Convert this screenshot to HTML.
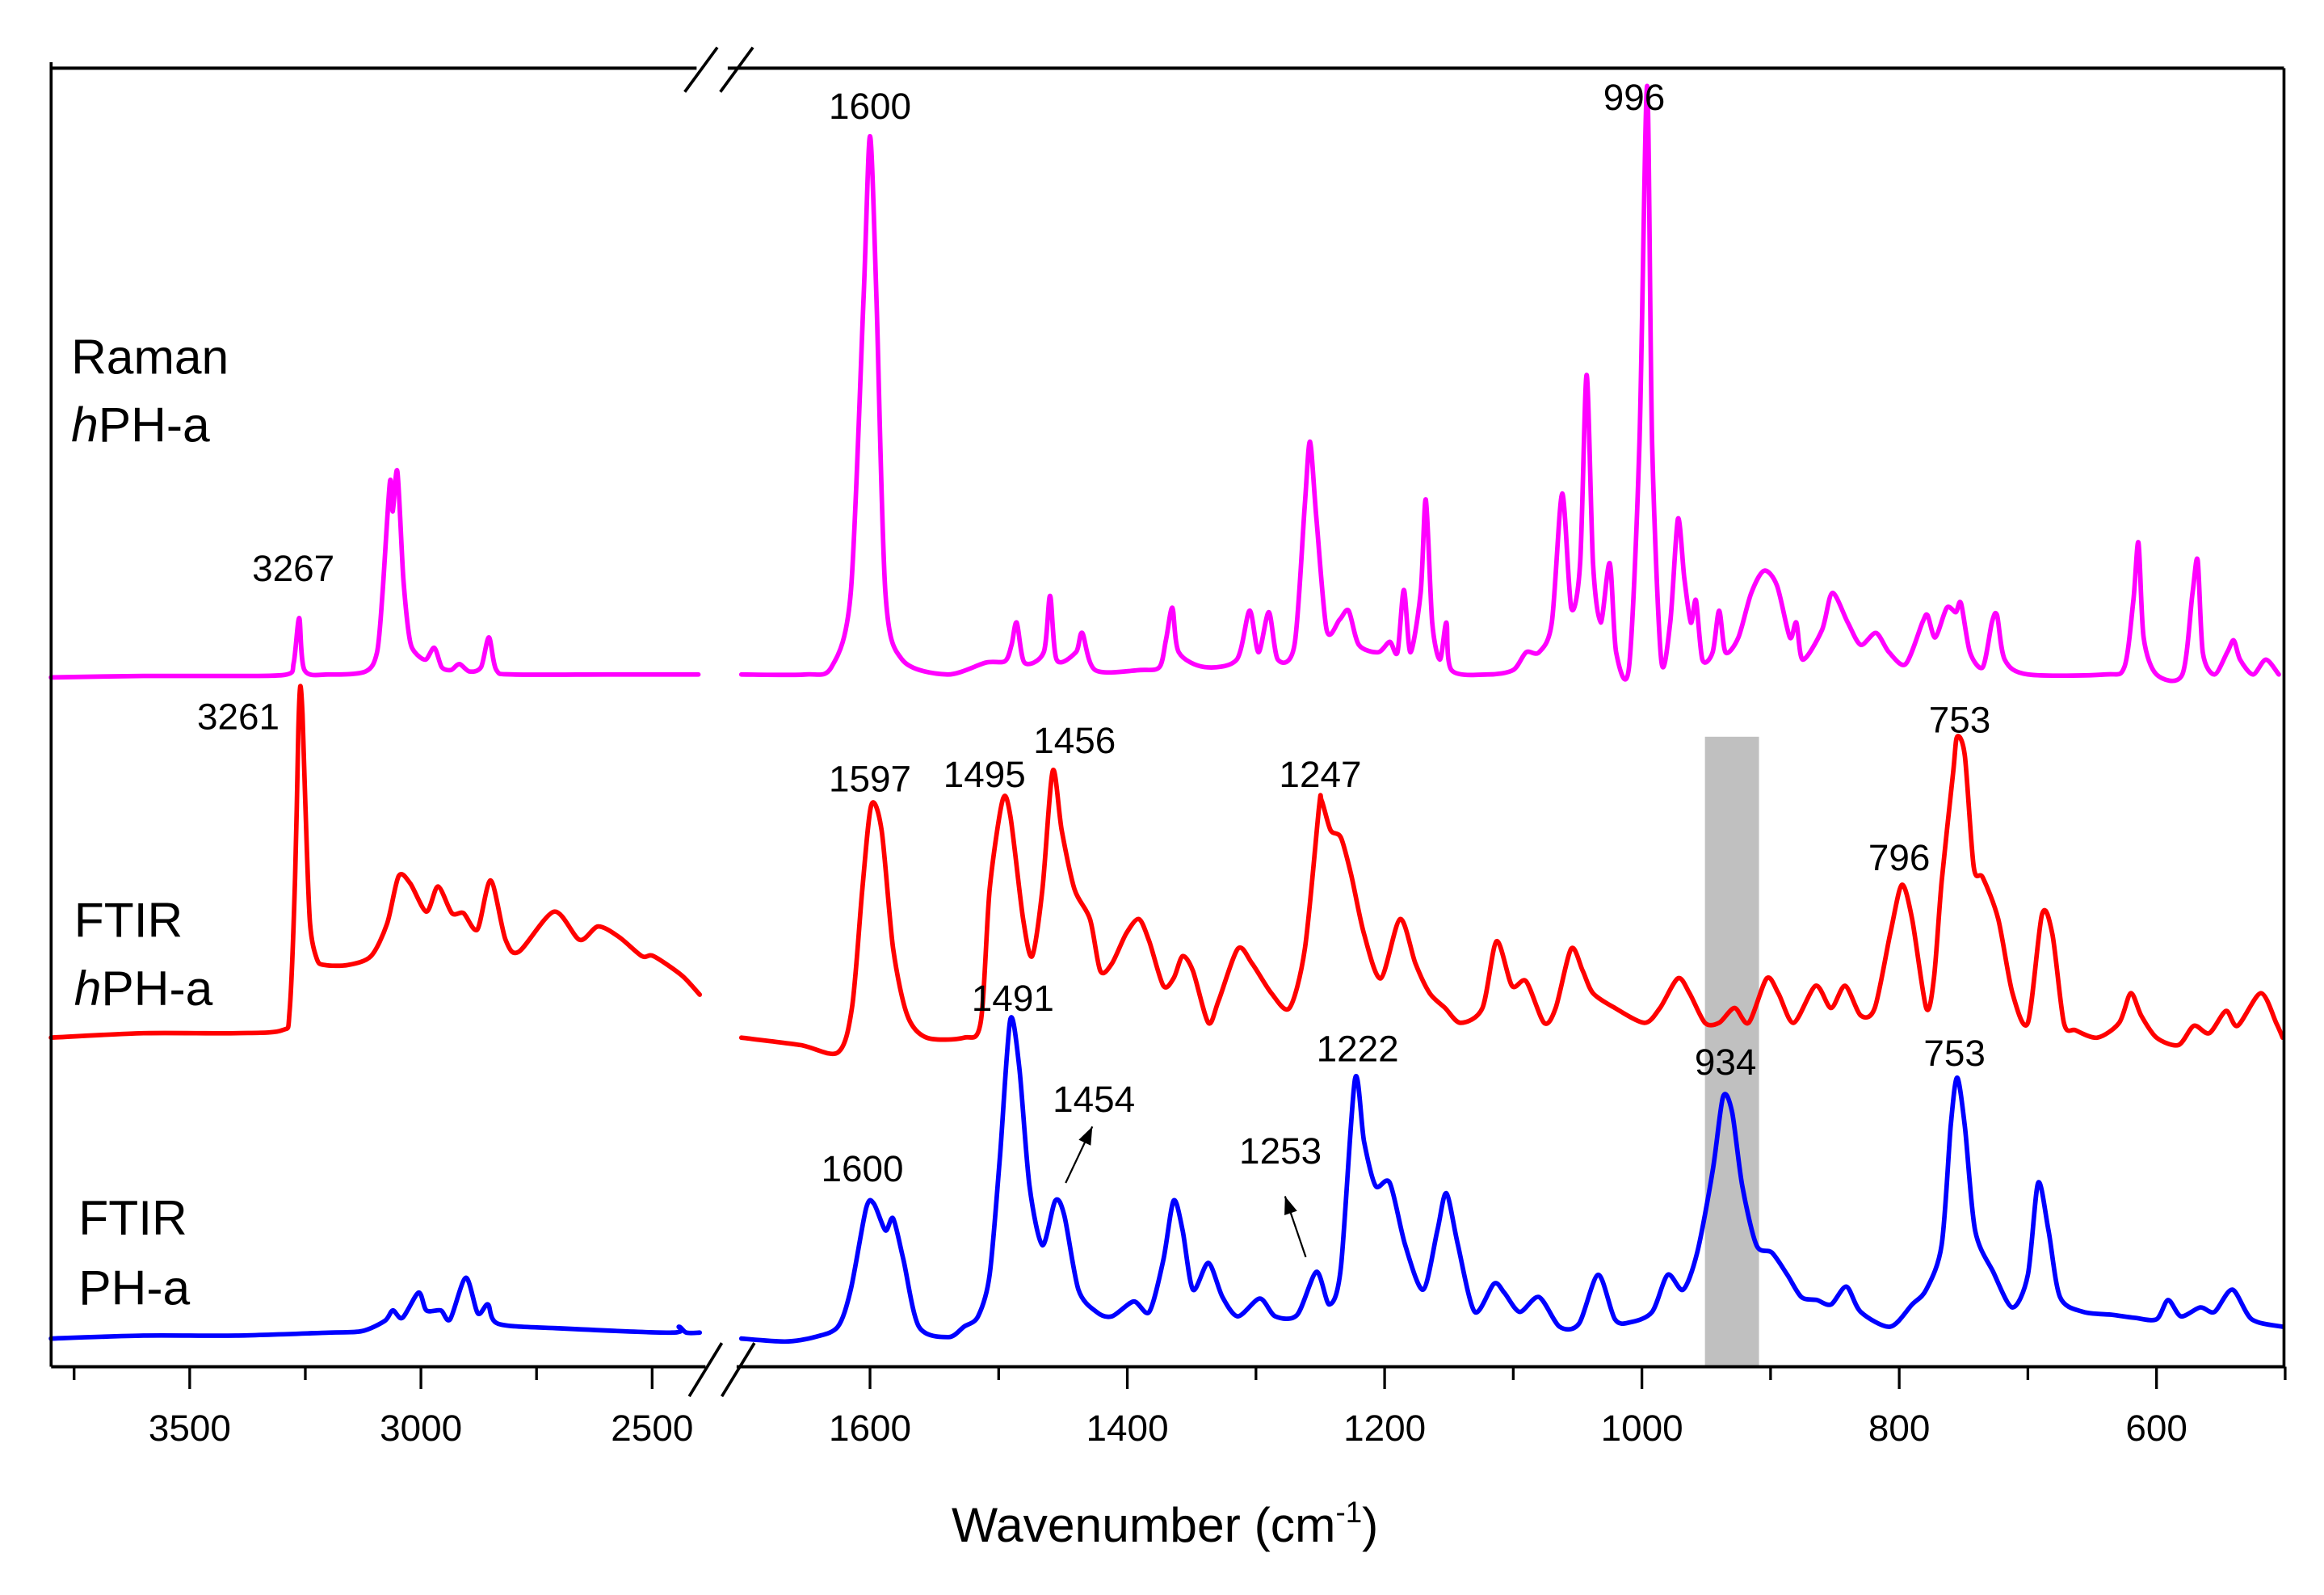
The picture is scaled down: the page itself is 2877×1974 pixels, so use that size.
<!DOCTYPE html>
<html><head><meta charset="utf-8"><style>
html,body{margin:0;padding:0;background:#fff;}
svg{display:block;}
text{font-family:"Liberation Sans",Arial,sans-serif;fill:#000;}
</style></head><body>
<svg id="chart" width="2877" height="1974" viewBox="0 0 1568 1076" preserveAspectRatio="none" xmlns="http://www.w3.org/2000/svg">
<rect x="0" y="0" width="1568" height="1076" fill="#fff"/>
<g id="band"></g>
<g id="curves"></g>
<g id="axes"></g>
<g id="labels"></g>
</svg>
<script>
// ---- data (wavenumber, intensity offset units) ----
const ramanLeft=[[3800,465],[3600,466],[3400,466],[3290,467],[3275,475],[3263,505],[3252,470],[3200,467],[3120,469],[3095,482],[3083,522],[3067,597],[3061,577],[3051,604],[3038,532],[3025,492],[3013,482],[2990,477],[2971,485],[2955,472],[2935,470],[2917,474],[2895,469],[2870,472],[2853,492],[2837,470],[2800,467],[2600,467],[2400,467]];
const ramanRight=[[1700,467],[1650,467],[1630,472],[1615,522],[1605,722],[1600,830],[1595,722],[1588,522],[1575,477],[1540,467],[1510,475],[1495,476],[1490,487],[1486,502],[1480,475],[1465,482],[1460,520],[1455,477],[1440,482],[1435,495],[1425,470],[1390,470],[1375,472],[1370,490],[1365,512],[1360,482],[1340,472],[1315,477],[1305,510],[1298,482],[1290,509],[1283,477],[1270,487],[1262,582],[1258,624],[1253,572],[1245,497],[1235,504],[1228,510],[1220,487],[1205,482],[1196,489],[1190,482],[1185,524],[1180,482],[1172,522],[1168,585],[1163,502],[1157,477],[1152,502],[1148,470],[1120,467],[1100,470],[1090,482],[1080,482],[1070,502],[1062,589],[1055,512],[1048,542],[1043,669],[1038,542],[1032,502],[1025,542],[1020,482],[1010,472],[1002,622],[996,864],[992,622],[985,477],[978,502],[972,572],[967,532],[962,502],[958,517],[953,477],[945,482],[940,510],[935,482],[925,492],[915,522],[905,537],[895,527],[885,492],[880,502],[875,477],[860,497],[852,522],[840,502],[830,487],[818,495],[808,482],[795,474],[782,502],[778,507],[772,492],[763,512],[756,509],[752,515],[745,482],[735,472],[728,502],[724,507],[718,477],[700,467],[640,467],[625,472],[618,517],[614,556],[610,492],[600,467],[580,467],[572,522],[568,544],[564,482],[555,467],[545,482],[540,490],[535,477],[525,467],[515,477],[505,467]];
const hphLeft=[[3800,222],[3600,225],[3400,225],[3300,227],[3284,240],[3272,330],[3265,430],[3261,459],[3256,440],[3250,380],[3240,300],[3225,275],[3208,271],[3158,271],[3108,277],[3073,299],[3048,331],[3023,326],[2988,307],[2963,324],[2933,306],[2908,306],[2878,295],[2849,328],[2817,288],[2788,280],[2712,307],[2657,288],[2617,297],[2572,290],[2522,277],[2497,277],[2436,264],[2397,251]];
const hphRight=[[1700,222],[1654,217],[1625,212],[1614,242],[1606,322],[1599,379],[1591,362],[1582,282],[1571,237],[1556,222],[1527,222],[1514,232],[1507,322],[1497,382],[1491,372],[1481,302],[1474,277],[1466,322],[1458,402],[1451,362],[1441,322],[1429,302],[1421,267],[1412,272],[1401,292],[1391,302],[1383,287],[1372,257],[1364,262],[1357,277],[1349,267],[1337,232],[1329,247],[1314,282],[1303,272],[1288,252],[1274,242],[1262,282],[1251,377],[1249,382],[1242,362],[1234,357],[1226,332],[1216,292],[1203,262],[1188,302],[1176,272],[1165,252],[1153,242],[1141,232],[1124,242],[1113,287],[1101,257],[1090,260],[1076,232],[1067,242],[1055,282],[1046,267],[1038,252],[1021,242],[998,232],[986,242],[972,262],[963,252],[951,232],[940,232],[928,242],[917,232],[903,262],[894,252],[882,232],[865,257],[853,242],[842,257],[830,237],[819,242],[807,292],[798,325],[790,302],[779,242],[773,262],[767,327],[758,402],[755,425],[749,412],[742,337],[735,330],[723,302],[712,252],[700,232],[689,305],[681,292],[672,232],[663,227],[646,222],[629,232],[620,252],[612,237],[600,222],[583,217],[571,230],[559,225],[546,240],[537,230],[519,252],[507,232],[502,222]];
const phLeft=[[3800,19],[3600,21],[3400,21],[3200,23],[3128,24],[3078,31],[3061,38],[3040,33],[3005,50],[2988,38],[2957,38],[2937,32],[2903,60],[2877,36],[2855,42],[2833,29],[2708,26],[2457,23],[2442,27],[2426,23],[2397,23]];
const phRight=[[1700,19],[1666,17],[1643,20],[1625,27],[1615,52],[1603,107],[1597,110],[1588,92],[1582,100],[1574,72],[1562,27],[1539,20],[1527,27],[1516,34],[1507,62],[1499,142],[1491,234],[1484,202],[1476,122],[1466,82],[1456,112],[1449,102],[1438,52],[1424,37],[1412,34],[1395,44],[1383,37],[1372,72],[1364,112],[1357,92],[1349,52],[1337,70],[1326,47],[1314,34],[1297,46],[1285,34],[1268,35],[1253,64],[1243,42],[1234,67],[1223,194],[1216,152],[1207,122],[1196,124],[1184,82],[1170,52],[1159,92],[1152,117],[1143,82],[1130,37],[1115,56],[1107,50],[1095,37],[1080,47],[1064,27],[1049,29],[1034,62],[1021,32],[1009,30],[992,37],[980,62],[968,52],[957,77],[945,132],[937,182],[930,172],[922,122],[911,82],[899,77],[887,62],[876,47],[864,45],[853,42],[841,54],[830,37],[807,27],[790,42],[779,52],[767,82],[760,162],[755,195],[749,162],[741,92],[727,64],[712,40],[700,62],[692,124],[684,92],[675,47],[657,37],[634,35],[617,33],[600,32],[591,45],[581,34],[566,40],[555,37],[541,52],[526,32],[502,27]];
const leftTicks=[3500,3000,2500];
const leftMinor=[3750,3250,2750];
const rightTicks=[1600,1400,1200,1000,800,600];
const rightMinor=[1500,1300,1100,900,700,500];
const bandRange=[951,909];
const peakLabels=[
 ["1600",1600,842,"raman"],["996",1006,848,"raman"],["3267",3276,530,"raman"],["3261",3395,430,"hph"],
 ["1597",1600,388,"hph"],["1495",1511,391,"hph"],["1456",1441,414,"hph"],["1247",1250,391,"hph"],["753",753,428,"hph"],["796",800,335,"hph"],
 ["1491",1489,240,"ph"],["1454",1426,172,"ph"],["1253",1281,137,"ph"],["1222",1221,206,"ph"],["934",935,197,"ph"],["753",757,203,"ph"],["1600",1606,125,"ph"]
];
// ---- scales ----
const NS="http://www.w3.org/2000/svg";
const X0=34.5, X1=1541, YB=922, YT=46, BRK0=476, BRK1=497;
function xLeft(w){return 128+(3500-w)*0.312;}
function xRight(w){return 587+(1600-w)*0.868;}
function xs(w){return w>2000?xLeft(w):xRight(w);}
function ys(v){return YB-v;}
function mk(tag,attrs,parent){const e=document.createElementNS(NS,tag);for(const k in attrs)e.setAttribute(k,attrs[k]);parent.appendChild(e);return e;}
function smoothPath(pts){
 let d='M'+pts[0][0].toFixed(1)+' '+pts[0][1].toFixed(1);
 const t=0.14;
 for(let i=0;i<pts.length-1;i++){
  const p0=pts[Math.max(0,i-1)],p1=pts[i],p2=pts[i+1],p3=pts[Math.min(pts.length-1,i+2)];
  const c1x=p1[0]+(p2[0]-p0[0])*t,c1y=p1[1]+(p2[1]-p0[1])*t;
  const c2x=p2[0]-(p3[0]-p1[0])*t,c2y=p2[1]-(p3[1]-p1[1])*t;
  d+=' C'+c1x.toFixed(1)+' '+c1y.toFixed(1)+' '+c2x.toFixed(1)+' '+c2y.toFixed(1)+' '+p2[0].toFixed(1)+' '+p2[1].toFixed(1);
 }
 return d;
}
const curves=document.getElementById('curves'),axes=document.getElementById('axes'),labels=document.getElementById('labels'),band=document.getElementById('band');
const b=mk('rect',{x:xRight(bandRange[0]),y:497,width:xRight(bandRange[1])-xRight(bandRange[0]),height:YB-497,fill:'#c0c0c0'},band);


const series=[[ramanLeft,'#ff00ff','raman-left'],[ramanRight,'#ff00ff','raman-right'],[hphLeft,'#ff0000','ftir-hph-left'],[hphRight,'#ff0000','ftir-hph-right'],[phLeft,'#0000ff','ftir-ph-left'],[phRight,'#0000ff','ftir-ph-right']];
series.forEach(s=>{
 const pts=s[0].map(p=>[xs(p[0]),ys(p[1])]);
 const p=mk('path',{d:smoothPath(pts),fill:'none',stroke:s[1],'stroke-width':3.1,'stroke-linejoin':'round','stroke-linecap':'round'},curves);
 
 
});
function line(x1,y1,x2,y2,w,name){const l=mk('line',{x1:x1,y1:y1,x2:x2,y2:y2,stroke:'#000','stroke-width':w},axes);
 
 return l;}
line(X0,YB,BRK0,YB,2.2,'x-axis-left');line(BRK1,YB,X1,YB,2.2,'x-axis-right');
line(X0,YT,BRK0-6,YT,2.2,'top-frame-left');line(BRK1-6,YT,X1,YT,2.2,'top-frame-right');
line(X0,YT-4,X0,YB,2,'left-frame');line(X1,YT,X1,YB+1,2,'right-frame');
line(462,62,484,32,2,'break-mark-top-1');line(486,62,508,32,2,'break-mark-top-2');
line(465,942,487,906,2,'break-mark-bottom-1');line(487,942,509,906,2,'break-mark-bottom-2');
leftTicks.forEach(t=>{line(xLeft(t),YB,xLeft(t),YB+15,1.8,'x-tick');
 const tx=mk('text',{x:xLeft(t),y:972,'font-size':25,'text-anchor':'middle'},axes);tx.textContent=t;
 
 });
leftMinor.forEach(t=>line(xLeft(t),YB,xLeft(t),YB+9,1.8,'x-minor-tick'));
rightTicks.forEach(t=>{line(xRight(t),YB,xRight(t),YB+15,1.8,'x-tick');
 const tx=mk('text',{x:xRight(t),y:972,'font-size':25,'text-anchor':'middle'},axes);tx.textContent=t;
 
 });
rightMinor.forEach(t=>line(xRight(t),YB,xRight(t),YB+9,1.8,'x-minor-tick'));
peakLabels.forEach(l=>{const t=mk('text',{x:xs(l[1]),y:ys(l[2]),'font-size':25,'text-anchor':'middle'},labels);t.textContent=l[0];
 
 });
function arrow(x1,y1,x2,y2,name){const g=mk('g',{},labels);
 
 
 mk('line',{x1:x1,y1:y1,x2:x2,y2:y2,stroke:'#000','stroke-width':1.2},g);
 const a=Math.atan2(y2-y1,x2-x1),L=12,W=4.5;
 const bx=x2-L*Math.cos(a),by=y2-L*Math.sin(a);
 mk('polygon',{points:`${x2},${y2} ${bx+W*Math.sin(a)},${by-W*Math.cos(a)} ${bx-W*Math.sin(a)},${by+W*Math.cos(a)}`,fill:'#000'},g);}
arrow(719,798,737,760,'arrow-1454');arrow(881,848,867,807,'arrow-1253');
</script>
<svg style="position:absolute;left:0;top:0" width="2877" height="1974" viewBox="0 0 1568 1076" preserveAspectRatio="none" xmlns="http://www.w3.org/2000/svg">
<text x="48" y="252" font-size="33">Raman</text>
<text x="48" y="298" font-size="33"><tspan font-style="italic">h</tspan>PH-a</text>
<text x="50" y="632" font-size="33">FTIR</text>
<text x="50" y="678" font-size="33"><tspan font-style="italic">h</tspan>PH-a</text>
<text x="53" y="833" font-size="33">FTIR</text>
<text x="53" y="880" font-size="33">PH-a</text>
<text x="786" y="1040" font-size="33" text-anchor="middle">Wavenumber (cm<tspan font-size="20" dy="-13">-1</tspan><tspan dy="13">)</tspan></text>
</svg>
</body></html>
